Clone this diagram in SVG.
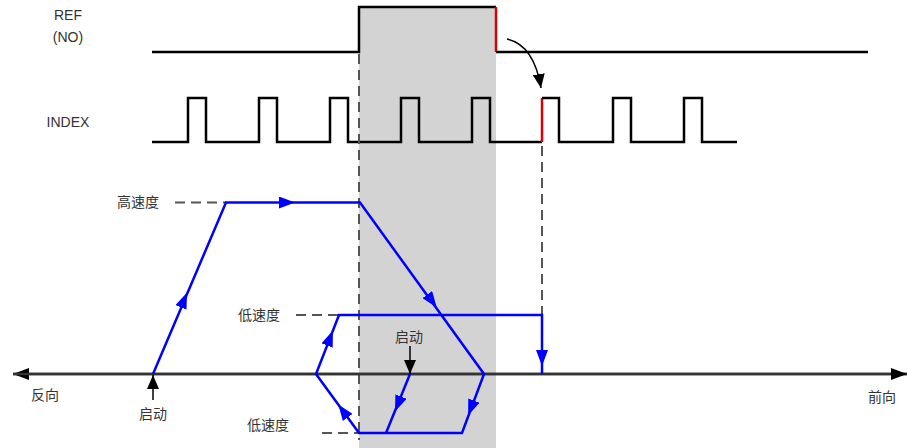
<svg xmlns="http://www.w3.org/2000/svg" width="907" height="448" viewBox="0 0 907 448">
<style>
.sig{fill:none;stroke:#000;stroke-width:2.5;stroke-linejoin:miter}
.red{fill:none;stroke:#e00000;stroke-width:2.5}
.dash{fill:none;stroke:#555;stroke-width:2;stroke-dasharray:10,6}
.blue{fill:none;stroke:#0000ff;stroke-width:2.5;stroke-linejoin:miter}
.lab{font-family:"Liberation Sans","Noto Sans CJK SC",sans-serif;font-size:14px;fill:#333}
.cn{font-family:"Noto Sans CJK SC","Liberation Sans",sans-serif;font-size:14px;fill:#333}
</style>
<defs>
<marker id="ba" viewBox="0 0 16 12" refX="8" refY="6" markerWidth="16" markerHeight="12" markerUnits="userSpaceOnUse" orient="auto"><path d="M0,0L16,6L0,12z" fill="#0000ff"/></marker>
<marker id="ka" viewBox="0 0 14 12" refX="14" refY="6" markerWidth="14" markerHeight="12" markerUnits="userSpaceOnUse" orient="auto"><path d="M0,0L14,6L0,12z" fill="#000"/></marker>
<marker id="ax" viewBox="0 0 16 12" refX="16" refY="6" markerWidth="16" markerHeight="12" markerUnits="userSpaceOnUse" orient="auto"><path d="M0,0L16,6L0,12z" fill="#000"/></marker>
</defs>
<rect x="359" y="7" width="137" height="441" fill="#d3d3d3"/>
<g id="ref-signal">
<path class="sig" d="M152,52H359V7H496"/>
<path class="red" d="M496,7V52"/>
<path class="sig" d="M496,52H868"/>
<text class="lab" x="68" y="20" text-anchor="middle">REF</text>
<text class="lab" x="68" y="42" text-anchor="middle">(NO)</text>
</g>
<g id="index-signal">
<path class="sig" d="M152,142H188V98H206V142H259V98H277V142H330V98H348V142H401V98H419V142H472V98H490V142H542"/>
<path class="red" d="M542,142V98"/>
<path class="sig" d="M542,98H559V142H613V98H631V142H684V98H702V142H737"/>
<text class="lab" x="68" y="127" text-anchor="middle">INDEX</text>
</g>
<g id="guides">
<path class="dash" d="M359,54V440"/>
<path class="dash" d="M542,146V315"/>
<path class="dash" d="M175,202.5H226"/>
<path class="dash" d="M296,315H339"/>
<path class="dash" d="M322,433H359"/>
</g>
<g id="axis">
<path d="M907,374H13" stroke="#333" stroke-width="2.5" fill="none" marker-end="url(#ax)"/>
<path d="M13,374H907" stroke="#333" stroke-width="2.5" fill="none" marker-end="url(#ax)"/>
<text class="cn" x="45" y="400" text-anchor="middle">反向</text>
<text class="cn" x="882" y="402" text-anchor="middle">前向</text>
</g>
<g id="connectors">
<path d="M507,39Q534,45 541,88" fill="none" stroke="#000" stroke-width="1.5" marker-end="url(#ka)"/>
<path d="M153,400V375" stroke="#000" stroke-width="1.5" fill="none" marker-end="url(#ka)"/>
<path d="M410,346V374" stroke="#000" stroke-width="1.5" fill="none" marker-end="url(#ka)"/>
</g>
<g id="high-speed-path">
<path class="blue" d="M153,374L226,202.5H360L484,374L462,433H359L316,374L339,315H542V374"/>
<path class="blue" d="M410,374L386,433"/>
<path d="M153,374L184,300" fill="none" stroke="none" marker-end="url(#ba)"/>
<path d="M226,202.5L287,202.5" fill="none" stroke="none" marker-end="url(#ba)"/>
<path d="M360,202.5L432,301" fill="none" stroke="none" marker-end="url(#ba)"/>
<path d="M484,374L471,408" fill="none" stroke="none" marker-end="url(#ba)"/>
<path d="M359,433L343,411" fill="none" stroke="none" marker-end="url(#ba)"/>
<path d="M316,374L330,338" fill="none" stroke="none" marker-end="url(#ba)"/>
<path d="M542,315L542,358" fill="none" stroke="none" marker-end="url(#ba)"/>
<path d="M410,374L398,404" fill="none" stroke="none" marker-end="url(#ba)"/>
</g>
<g id="labels">
<text class="cn" x="138" y="207" text-anchor="middle">高速度</text>
<text class="cn" x="259" y="320" text-anchor="middle">低速度</text>
<text class="cn" x="268" y="430" text-anchor="middle">低速度</text>
<text class="cn" x="153" y="419" text-anchor="middle">启动</text>
<text class="cn" x="409" y="342" text-anchor="middle">启动</text>
</g>
</svg>
